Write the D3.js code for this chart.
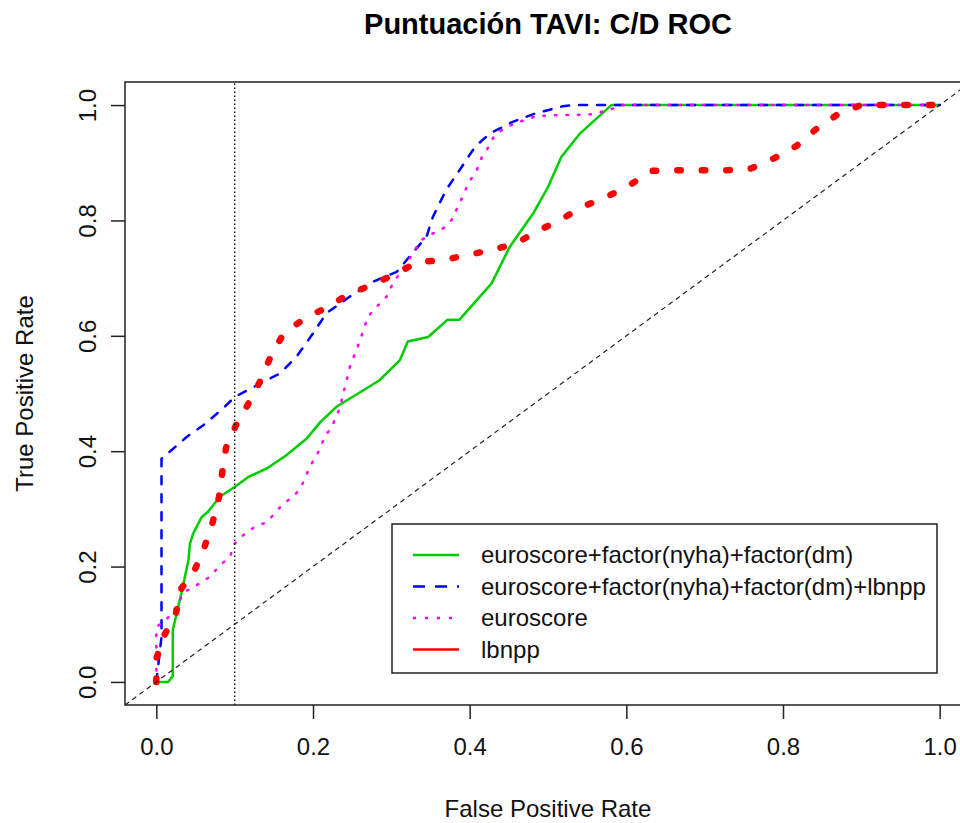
<!DOCTYPE html>
<html>
<head>
<meta charset="utf-8">
<script src="https://cdn.jsdelivr.net/npm/d3@7"></script>
<style>
  body { margin: 0; background: #fff; }
  svg { display: block; font-family: "Liberation Sans", Arial, sans-serif; }
</style>
</head>
<body>
<svg id="chart" width="960" height="823"></svg>
<script>
// ---- Data ----
const title = "Puntuación TAVI: C/D ROC";
const xLabel = "False Positive Rate";
const yLabel = "True Positive Rate";
const tickValues = [0, 0.2, 0.4, 0.6, 0.8, 1.0];
const seriesNames = [
  "euroscore+factor(nyha)+factor(dm)",
  "euroscore+factor(nyha)+factor(dm)+lbnpp",
  "euroscore",
  "lbnpp"
];
const cutoffFPR = 0.1;

const greenFPR = [0, 0.015, 0.021, 0.021, 0.032, 0.041, 0.043, 0.047, 0.058, 0.066, 0.081, 0.1, 0.117, 0.141, 0.166, 0.192, 0.209, 0.23, 0.285, 0.311, 0.321, 0.347, 0.372, 0.387, 0.428, 0.451, 0.481, 0.5, 0.517, 0.541, 0.581, 1];
const greenTPR = [0, 0, 0.01, 0.09, 0.154, 0.211, 0.24, 0.257, 0.286, 0.295, 0.321, 0.338, 0.355, 0.37, 0.393, 0.422, 0.45, 0.477, 0.523, 0.558, 0.59, 0.598, 0.628, 0.628, 0.691, 0.754, 0.812, 0.858, 0.91, 0.951, 1, 1];

const blueFPR = [0, 0.0066, 0.0066, 0.017, 0.039, 0.06, 0.085, 0.1, 0.128, 0.158, 0.179, 0.2, 0.217, 0.247, 0.277, 0.307, 0.323, 0.345, 0.353, 0.37, 0.387, 0.407, 0.426, 0.455, 0.485, 0.519, 0.53, 1];
const blueTPR = [0, 0.078, 0.387, 0.399, 0.425, 0.445, 0.474, 0.494, 0.514, 0.535, 0.564, 0.604, 0.639, 0.668, 0.694, 0.711, 0.737, 0.772, 0.806, 0.853, 0.887, 0.928, 0.951, 0.971, 0.986, 0.998, 1, 1];

const magentaFPR = [0, 0, 0.019, 0.036, 0.053, 0.068, 0.081, 0.094, 0.1, 0.113, 0.126, 0.141, 0.151, 0.162, 0.175, 0.185, 0.196, 0.207, 0.215, 0.224, 0.234, 0.243, 0.247, 0.26, 0.27, 0.281, 0.294, 0.302, 0.319, 0.338, 0.351, 0.366, 0.377, 0.385, 0.392, 0.398, 0.409, 0.415, 0.423, 0.432, 0.447, 0.464, 0.481, 0.498, 0.557, 0.583, 0.592, 1];
const magentaTPR = [0, 0.095, 0.116, 0.156, 0.169, 0.182, 0.202, 0.217, 0.24, 0.257, 0.269, 0.277, 0.292, 0.309, 0.321, 0.338, 0.373, 0.399, 0.425, 0.442, 0.474, 0.523, 0.546, 0.592, 0.633, 0.65, 0.668, 0.691, 0.725, 0.766, 0.776, 0.786, 0.801, 0.824, 0.844, 0.864, 0.887, 0.908, 0.925, 0.948, 0.962, 0.971, 0.979, 0.982, 0.984, 0.994, 1, 1];

const redFPR = [0, 0, 0.009, 0.025, 0.032, 0.05, 0.062, 0.072, 0.08, 0.084, 0.089, 0.102, 0.119, 0.132, 0.146, 0.162, 0.19, 0.219, 0.245, 0.275, 0.306, 0.334, 0.365, 0.397, 0.429, 0.459, 0.487, 0.516, 0.543, 0.575, 0.604, 0.632, 0.663, 0.728, 0.759, 0.789, 0.817, 0.842, 0.872, 0.9, 1];
const redTPR = [0, 0.04, 0.078, 0.119, 0.162, 0.197, 0.236, 0.277, 0.32, 0.362, 0.406, 0.446, 0.486, 0.52, 0.564, 0.603, 0.631, 0.65, 0.672, 0.688, 0.708, 0.728, 0.731, 0.74, 0.749, 0.76, 0.782, 0.801, 0.823, 0.841, 0.861, 0.886, 0.887, 0.887, 0.89, 0.908, 0.929, 0.958, 0.986, 1, 1];

// ---- Layout ----
const FONT = 24;
const svg = d3.select("#chart");
const plot = { left: 125, right: 971, top: 82, bottom: 705 };
const x = d3.scaleLinear().domain([-0.04, 1.04]).range([plot.left, plot.right]);
const y = d3.scaleLinear().domain([-0.04, 1.04]).range([plot.bottom, plot.top]);

const series = [
  { fpr: greenFPR, tpr: greenTPR, color: "#00CD00", width: 2.5, dash: null },
  { fpr: blueFPR, tpr: blueTPR, color: "#0000FF", width: 2.5, dash: "8,10" },
  { fpr: magentaFPR, tpr: magentaTPR, color: "#FF00FF", width: 2.5, dash: "1.5,10" },
  { fpr: redFPR, tpr: redTPR, color: "#FF0000", width: 6.5, dash: "3.5,21" }
];

svg.append("clipPath").attr("id", "clip")
  .append("rect").attr("x", plot.left).attr("y", plot.top)
  .attr("width", plot.right - plot.left).attr("height", plot.bottom - plot.top);

const g = svg.append("g").attr("clip-path", "url(#clip)");
const line = d3.line().x(d => x(d[0])).y(d => y(d[1]));

series.forEach(s => {
  const pts = s.fpr.map((f, i) => [f, s.tpr[i]]);
  g.append("path").datum(pts)
    .attr("d", line)
    .attr("fill", "none")
    .attr("stroke", s.color)
    .attr("stroke-width", s.width)
    .attr("stroke-linecap", "round")
    .attr("stroke-linejoin", "round")
    .attr("stroke-dasharray", s.dash);
});

// diagonal reference line
g.append("path").datum([[-0.04, -0.04], [1.04, 1.04]])
  .attr("d", line).attr("fill", "none")
  .attr("stroke", "#222").attr("stroke-width", 1.2).attr("stroke-dasharray", "5,4");

// vertical cutoff line
g.append("path").datum([[cutoffFPR, -0.04], [cutoffFPR, 1.04]])
  .attr("d", line).attr("fill", "none")
  .attr("stroke", "#000").attr("stroke-width", 1.3).attr("stroke-dasharray", "1.5,2.5");

// frame
svg.append("rect").attr("x", plot.left).attr("y", plot.top)
  .attr("width", plot.right - plot.left).attr("height", plot.bottom - plot.top)
  .attr("fill", "none").attr("stroke", "#222").attr("stroke-width", 1.5);

// axes
const xAxis = d3.axisBottom(x).tickValues(tickValues).tickFormat(d3.format(".1f")).tickSize(14).tickPadding(19);
const gx = svg.append("g").attr("transform", `translate(0,${plot.bottom})`).call(xAxis);
gx.select(".domain").remove();
gx.selectAll("line").attr("stroke", "#222").attr("stroke-width", 1.5);
gx.selectAll("text").attr("font-size", FONT).attr("fill", "#111")
  .attr("font-family", "Liberation Sans, Arial, sans-serif");

const yAxis = d3.axisLeft(y).tickValues(tickValues).tickFormat(d3.format(".1f")).tickSize(14).tickPadding(0);
const gy = svg.append("g").attr("transform", `translate(${plot.left},0)`).call(yAxis);
gy.select(".domain").remove();
gy.selectAll("line").attr("stroke", "#222").attr("stroke-width", 1.5);
gy.selectAll("text")
  .attr("font-size", FONT).attr("fill", "#111")
  .attr("font-family", "Liberation Sans, Arial, sans-serif")
  .attr("x", null)
  .attr("text-anchor", "middle")
  .attr("transform", "translate(-37,0) rotate(-90)")
  .attr("y", 0).attr("dy", "0.35em");

// title and labels
svg.append("text").attr("x", (plot.left + plot.right) / 2).attr("y", 34)
  .attr("text-anchor", "middle").attr("font-weight", "bold").attr("font-size", 29)
  .attr("fill", "#000").text(title);

svg.append("text").attr("x", (plot.left + plot.right) / 2).attr("y", 817)
  .attr("text-anchor", "middle").attr("font-size", FONT).attr("fill", "#111").text(xLabel);

svg.append("text")
  .attr("transform", `translate(33,${(plot.top + plot.bottom) / 2}) rotate(-90)`)
  .attr("text-anchor", "middle").attr("font-size", FONT).attr("fill", "#111").text(yLabel);

// legend
const leg = { x: 392, y: 524, w: 545, h: 149 };
svg.append("rect").attr("x", leg.x).attr("y", leg.y).attr("width", leg.w).attr("height", leg.h)
  .attr("fill", "#fff").attr("stroke", "#222").attr("stroke-width", 1.5);
const legendDash = [null, "12,10", "3,9", null];
seriesNames.forEach((name, i) => {
  const cy = leg.y + 31 + i * 31.5;
  svg.append("line").attr("x1", leg.x + 21).attr("x2", leg.x + 67)
    .attr("y1", cy).attr("y2", cy)
    .attr("stroke", series[i].color).attr("stroke-width", 2.5)
    .attr("stroke-dasharray", legendDash[i]).attr("stroke-linecap", "butt");
  svg.append("text").attr("x", leg.x + 89).attr("y", cy).attr("dy", "0.35em")
    .attr("font-size", FONT).attr("fill", "#111").text(name);
});
</script>
</body>
</html>
